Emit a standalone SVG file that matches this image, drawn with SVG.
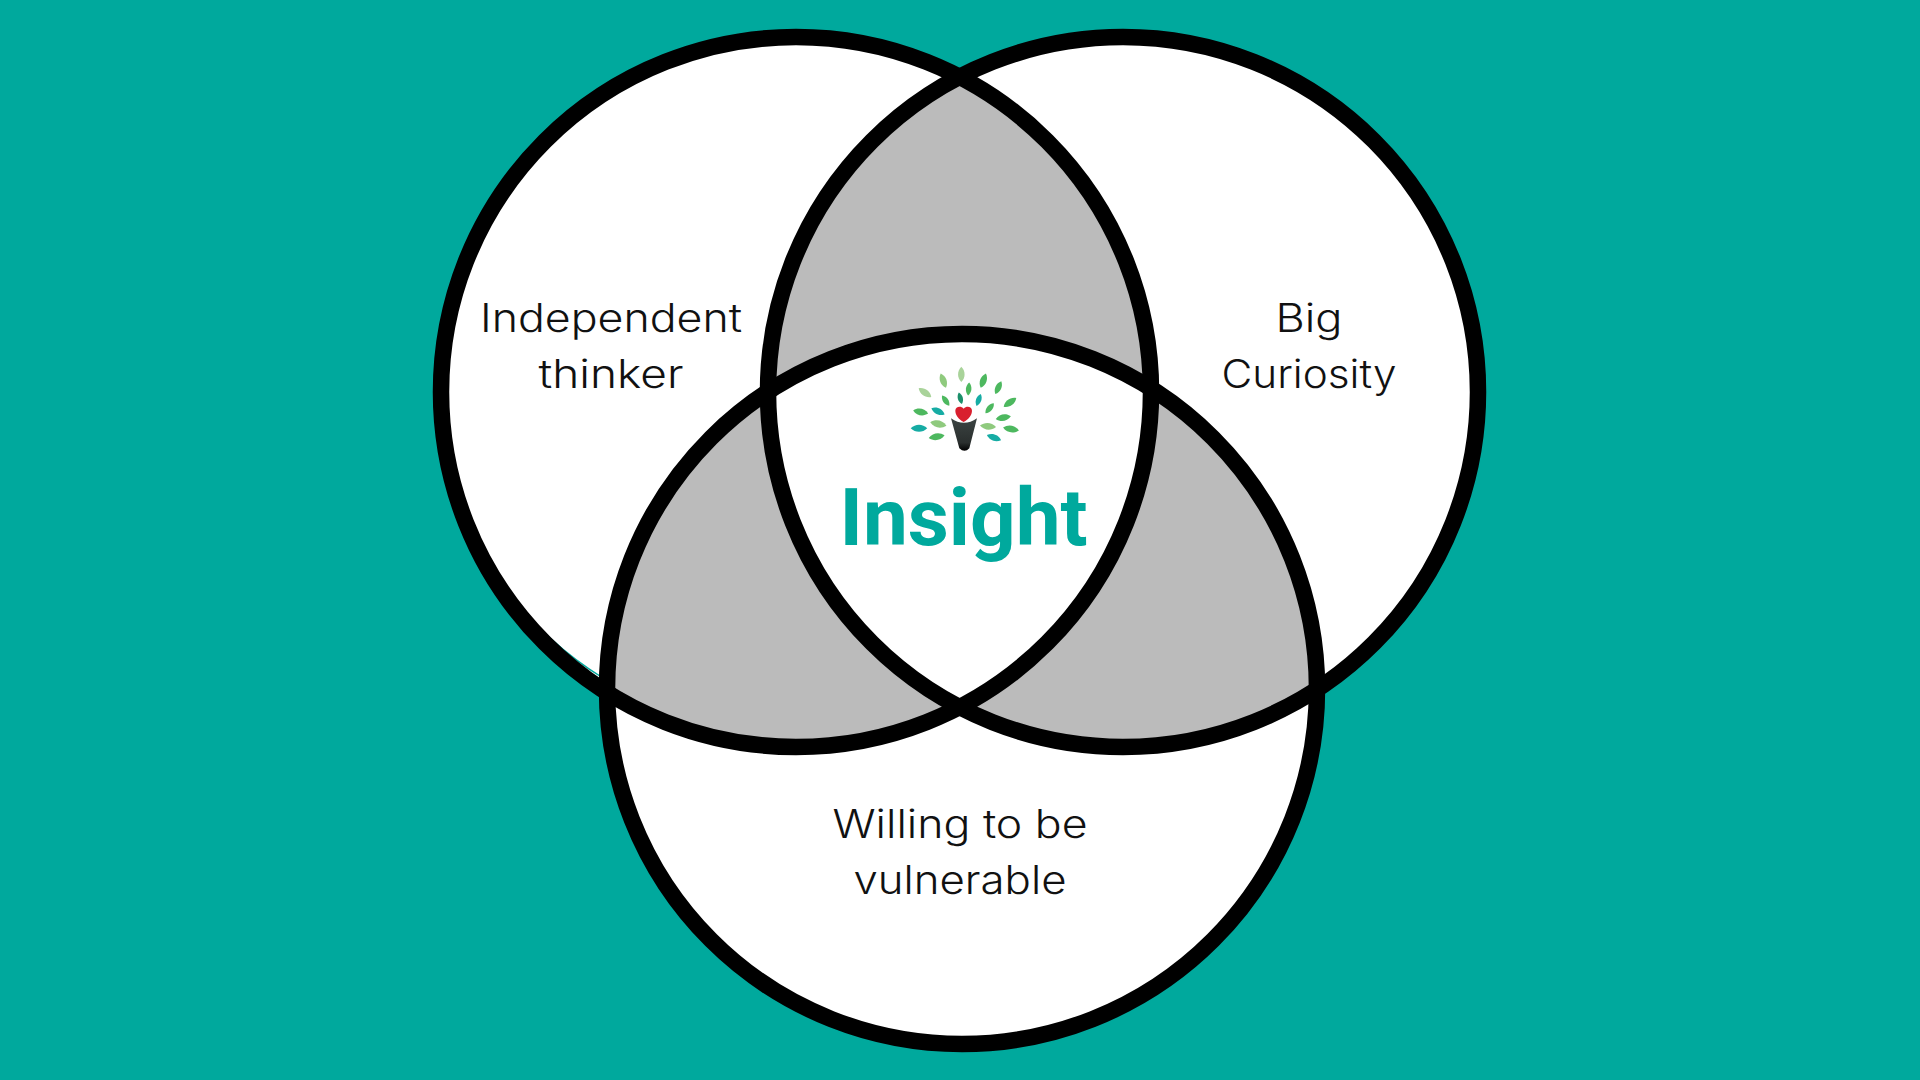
<svg xmlns="http://www.w3.org/2000/svg" width="1920" height="1080" viewBox="0 0 1920 1080">
<style>
.ring{fill:none;stroke:#000;stroke-width:16.5}
.disc{fill:#fff}
.gray{fill:#bbb}
.label{font-family:"Inter","Noto Sans","Liberation Sans",sans-serif;font-weight:300;font-size:39px;fill:#111;text-anchor:middle}
.title{font-family:"Roboto","Liberation Sans",sans-serif;font-weight:700;font-size:80px;fill:#00a99d;text-anchor:middle}
.lg{fill:#4db85f}.ll{fill:#8fca7e}.lp{fill:#a9d39a}.lt{fill:#16aca4}.ld{fill:#1b8f6a}
</style>
<defs>
<clipPath id="cL"><circle cx="796" cy="392" r="355"/></clipPath>
<clipPath id="cR"><circle cx="1123" cy="392" r="355"/></clipPath>
<clipPath id="cB"><circle cx="962" cy="689" r="355"/></clipPath>
<path id="leaf" d="M0-23C13-10 13 10 0 23C-13 10-13-10 0-23Z"/>
<linearGradient id="cone" x1="0" y1="0" x2="0" y2="1"><stop offset="0" stop-color="#3c4443"/><stop offset=".75" stop-color="#2a2f2e"/><stop offset="1" stop-color="#000"/></linearGradient>
</defs>
<rect width="1920" height="1080" fill="#00a99d"/>
<g id="circle-independent"><circle class="disc" cx="796" cy="392" r="355"/></g>
<g id="circle-curiosity"><circle class="disc" cx="1123" cy="392" r="355"/></g>
<g id="circle-vulnerable"><circle class="disc" cx="962" cy="689" r="355"/></g>
<g id="overlaps">
<g clip-path="url(#cL)"><circle class="gray" cx="1123" cy="392" r="355"/></g>
<g clip-path="url(#cL)"><circle class="gray" cx="962" cy="689" r="355"/></g>
<g clip-path="url(#cR)"><circle class="gray" cx="962" cy="689" r="355"/></g>
<g clip-path="url(#cL)"><g clip-path="url(#cR)"><circle class="disc" cx="962" cy="689" r="355"/></g></g>
</g>
<path id="edge-sliver" d="M490 565A346.5 346.5 0 0 0 603 678" fill="none" stroke="#00a99d" stroke-width="1.4"/>
<g id="rings">
<circle class="ring" cx="796" cy="392" r="355"/>
<circle class="ring" cx="1123" cy="392" r="355"/>
<circle class="ring" cx="962" cy="689" r="355"/>
</g>
<g id="logo" transform="translate(880 350) scale(.3333)">
<use href="#leaf" class="lp" transform="translate(244 73)"/>
<use href="#leaf" class="ll" transform="translate(190 92) rotate(-20)"/>
<use href="#leaf" class="lg" transform="translate(310 92) rotate(20)"/>
<use href="#leaf" class="lg" transform="translate(355 113) rotate(25) scale(.92)"/>
<use href="#leaf" class="lp" transform="translate(135 128) rotate(-55)"/>
<use href="#leaf" class="lg" transform="translate(266 117) rotate(5) scale(.85)"/>
<use href="#leaf" class="lg" transform="translate(197 152) rotate(-35) scale(.82)"/>
<use href="#leaf" class="ld" transform="translate(241 145) rotate(-15) scale(.78)"/>
<use href="#leaf" class="lt" transform="translate(296 150) rotate(20) scale(.82)"/>
<use href="#leaf" class="lg" transform="translate(390 157) rotate(55)"/>
<use href="#leaf" class="lg" transform="translate(329 175) rotate(40) scale(.85)"/>
<use href="#leaf" class="lg" transform="translate(122 186) rotate(-78)"/>
<use href="#leaf" class="lt" transform="translate(174 184) rotate(-65) scale(.95)"/>
<use href="#leaf" class="lg" transform="translate(370 203) rotate(80)"/>
<use href="#leaf" class="ll" transform="translate(175 222) rotate(-78) scale(1.08)"/>
<use href="#leaf" class="lt" transform="translate(117 235) rotate(90) scale(1.08)"/>
<use href="#leaf" class="ll" transform="translate(324 229) rotate(95) scale(1.05)"/>
<use href="#leaf" class="lg" transform="translate(393 237) rotate(100) scale(1.05)"/>
<use href="#leaf" class="lg" transform="translate(170 260) rotate(80) scale(1.05)"/>
<use href="#leaf" class="lt" transform="translate(342 263) rotate(110) scale(.98)"/>
<path d="M251 216C236 208 226 195 226 182C226 170 242 165 251 176C260 165 276 170 276 182C276 195 266 208 251 216Z" fill="#d91f2e"/>
<path d="M213 205Q252 232 291 205L268 295Q254 310 238 295Z" fill="url(#cone)"/>
</g>
<g id="label-independent"><text class="label" x="611" y="332" textLength="262" lengthAdjust="spacingAndGlyphs">Independent</text><text class="label" x="611" y="388" textLength="145" lengthAdjust="spacingAndGlyphs">thinker</text></g>
<g id="label-curiosity"><text class="label" x="1309" y="332" textLength="67" lengthAdjust="spacingAndGlyphs">Big</text><text class="label" x="1309" y="388" textLength="175" lengthAdjust="spacingAndGlyphs">Curiosity</text></g>
<g id="label-vulnerable"><text class="label" x="960" y="838" textLength="255" lengthAdjust="spacingAndGlyphs">Willing to be</text><text class="label" x="960" y="894" textLength="213" lengthAdjust="spacingAndGlyphs">vulnerable</text></g>
<g id="label-insight"><text class="title" x="963.5" y="545" textLength="248" lengthAdjust="spacingAndGlyphs">Insight</text></g>
</svg>
